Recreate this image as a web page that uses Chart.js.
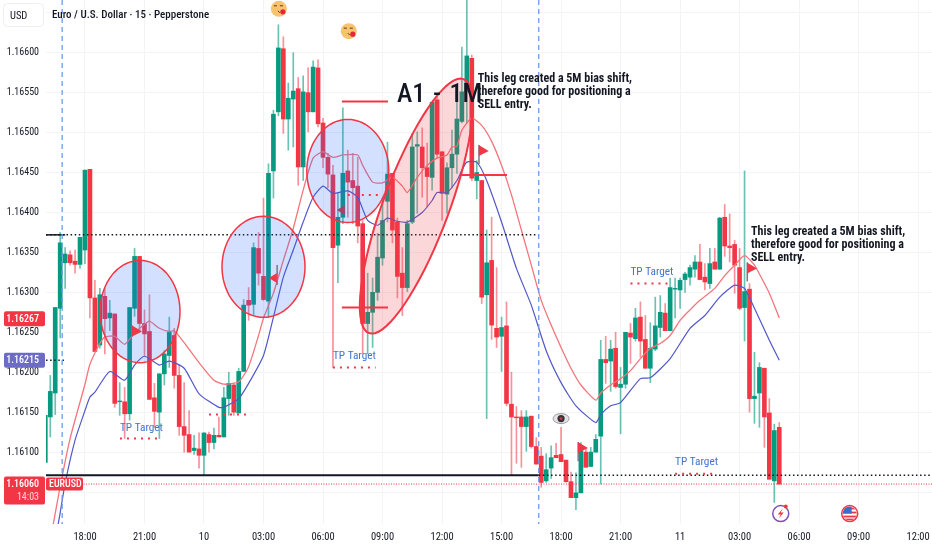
<!DOCTYPE html>
<html><head><meta charset="utf-8">
<style>html,body{margin:0;padding:0;background:#fff}canvas{display:block}</style>
<script src="https://cdn.jsdelivr.net/npm/chart.js@4"></script></head>
<body><canvas id="c" width="932" height="550"></canvas>
<script>
const firstIndex=-8;
const opens=[1.16087,1.16144,1.16174,1.16280,1.16337,1.16347,1.16339,1.16335,
1.16353,1.16454,1.16293,1.16234,1.16295,1.16268,1.16273,1.16163,1.16163,1.16148,
1.16280,1.16345,1.16261,1.16251,1.16168,1.16150,1.16198,1.16221,1.16246,1.16196,
1.16132,1.16122,1.16102,1.16104,1.16096,1.16122,1.16112,1.16121,1.16119,1.16167,
1.16184,1.16149,1.16201,1.16290,1.16285,1.16355,1.16320,1.16289,1.16452,1.16526,
1.16605,1.16517,1.16542,1.16555,1.16457,1.16550,1.16526,1.16581,1.16512,1.16469,
1.16447,1.16359,1.16394,1.16452,1.16440,1.16433,1.16386,1.16261,1.16275,1.16300,
1.16343,1.16414,1.16449,1.16388,1.16324,1.16306,1.16388,1.16483,1.16482,1.16456,
1.16444,1.16541,1.16476,1.16423,1.16456,1.16473,1.16514,1.16551,1.16593,1.16440,
1.16440,1.16297,1.16340,1.16255,1.16245,1.16258,1.16160,1.16144,1.16144,1.16132,
1.16145,1.16107,1.16095,1.16064,1.16080,1.16096,1.16097,1.16090,1.16063,1.16043,
1.16049,1.16100,1.16082,1.16100,1.16120,1.16216,1.16214,1.16230,1.16181,1.16185,
1.16249,1.16242,1.16269,1.16241,1.16205,1.16229,1.16256,1.16274,1.16252,1.16304,
1.16303,1.16316,1.16319,1.16329,1.16338,1.16319,1.16311,1.16338,1.16329,1.16394,
1.16358,1.16360,1.16331,1.16281,1.16304,1.16167,1.16174,1.16205,1.16149,1.16064,1.16131];
const highs=[1.16146,1.16196,1.16281,1.16375,1.16356,1.16352,1.16353,1.16369,
1.16453,1.16454,1.16315,1.16305,1.16305,1.16290,1.16273,1.16187,1.16181,1.16281,
1.16355,1.16345,1.16278,1.16297,1.16186,1.16198,1.16227,1.16269,1.16255,1.16209,
1.16187,1.16152,1.16121,1.16124,1.16124,1.16125,1.16130,1.16144,1.16181,1.16200,
1.16186,1.16205,1.16291,1.16306,1.16362,1.16375,1.16418,1.16461,1.16528,1.16635,
1.16620,1.16562,1.16600,1.16569,1.16571,1.16581,1.16590,1.16591,1.16518,1.16474,
1.16459,1.16424,1.16531,1.16478,1.16474,1.16469,1.16390,1.16324,1.16318,1.16374,
1.16419,1.16488,1.16449,1.16393,1.16356,1.16390,1.16499,1.16501,1.16506,1.16487,
1.16538,1.16544,1.16476,1.16462,1.16503,1.16541,1.16607,1.16680,1.16597,1.16465,
1.16440,1.16378,1.16394,1.16331,1.16269,1.16288,1.16200,1.16157,1.16152,1.16152,
1.16145,1.16118,1.16106,1.16098,1.16108,1.16111,1.16131,1.16090,1.16075,1.16074,
1.16112,1.16105,1.16106,1.16122,1.16240,1.16245,1.16240,1.16250,1.16206,1.16250,
1.16261,1.16280,1.16288,1.16271,1.16262,1.16294,1.16296,1.16286,1.16318,1.16318,
1.16318,1.16325,1.16334,1.16346,1.16360,1.16336,1.16355,1.16355,1.16394,1.16410,
1.16398,1.16365,1.16355,1.16452,1.16311,1.16225,1.16212,1.16205,1.16167,1.16135,1.16137];
const lows=[1.16087,1.16119,1.16147,1.16243,1.16305,1.16334,1.16324,1.16330,
1.16336,1.16268,1.16226,1.16230,1.16223,1.16252,1.16156,1.16146,1.16117,1.16140,
1.16270,1.16252,1.16221,1.16166,1.16131,1.16117,1.16184,1.16206,1.16180,1.16121,
1.16100,1.16100,1.16097,1.16080,1.16071,1.16100,1.16104,1.16119,1.16119,1.16146,
1.16146,1.16149,1.16201,1.16265,1.16271,1.16309,1.16290,1.16269,1.16418,1.16521,
1.16499,1.16478,1.16482,1.16434,1.16440,1.16501,1.16526,1.16507,1.16456,1.16431,
1.16206,1.16312,1.16386,1.16394,1.16386,1.16362,1.16223,1.16223,1.16231,1.16290,
1.16334,1.16388,1.16362,1.16293,1.16271,1.16301,1.16386,1.16399,1.16419,1.16407,
1.16428,1.16468,1.16390,1.16399,1.16431,1.16449,1.16512,1.16512,1.16440,1.16417,
1.16286,1.16142,1.16241,1.16231,1.16201,1.16158,1.16071,1.16086,1.16081,1.16101,
1.16105,1.16085,1.16056,1.16062,1.16067,1.16093,1.16088,1.16062,1.16043,1.16028,
1.16049,1.16081,1.16082,1.16100,1.16060,1.16186,1.16176,1.16180,1.16123,1.16180,
1.16211,1.16239,1.16219,1.16205,1.16187,1.16227,1.16244,1.16252,1.16252,1.16268,
1.16280,1.16300,1.16309,1.16319,1.16316,1.16303,1.16305,1.16329,1.16329,1.16345,
1.16338,1.16299,1.16278,1.16239,1.16150,1.16136,1.16131,1.16106,1.16066,1.16037,1.16060];
const closes=[1.16146,1.16176,1.16281,1.16362,1.16348,1.16337,1.16335,1.16369,
1.16453,1.16293,1.16226,1.16297,1.16267,1.16274,1.16161,1.16164,1.16148,1.16281,
1.16345,1.16261,1.16248,1.16166,1.16151,1.16198,1.16223,1.16250,1.16196,1.16132,
1.16121,1.16100,1.16105,1.16096,1.16124,1.16112,1.16121,1.16119,1.16168,1.16186,
1.16150,1.16201,1.16284,1.16284,1.16356,1.16324,1.16291,1.16449,1.16523,1.16606,
1.16517,1.16543,1.16552,1.16457,1.16551,1.16526,1.16582,1.16511,1.16469,1.16448,
1.16356,1.16394,1.16449,1.16438,1.16431,1.16383,1.16261,1.16275,1.16300,1.16344,
1.16390,1.16448,1.16378,1.16320,1.16306,1.16386,1.16482,1.16485,1.16456,1.16445,
1.16538,1.16473,1.16424,1.16456,1.16473,1.16517,1.16551,1.16596,1.16443,1.16450,
1.16294,1.16337,1.16259,1.16244,1.16256,1.16161,1.16144,1.16143,1.16132,1.16144,
1.16107,1.16085,1.16062,1.16078,1.16093,1.16093,1.16088,1.16063,1.16043,1.16049,
1.16102,1.16081,1.16100,1.16116,1.16216,1.16212,1.16229,1.16182,1.16185,1.16250,
1.16244,1.16268,1.16239,1.16205,1.16230,1.16258,1.16275,1.16252,1.16306,1.16305,
1.16315,1.16323,1.16331,1.16338,1.16316,1.16313,1.16336,1.16329,1.16393,1.16358,
1.16356,1.16334,1.16280,1.16301,1.16167,1.16170,1.16206,1.16144,1.16066,1.16127,1.16060];

const fastIdx=[-7,-5,-3,0,1,3,4,6,8,10,12,13,15,17,18,20,23,26,28,31,33,35,36,38,40,42,44,46,48,50,52,55,56,58,60,62,64,65,67,69,71,73,74,75,76,78,80,82,84,86,88,90,92,94,96,98,100,103,104,106,108,110,112,114,116,118,120,122,124,127,129,131,133,135,136,138,140];
const fastMA=[1.15989,1.16057,1.16117,1.16185,1.16210,1.16236,1.16244,1.16245,1.16235,1.16249,1.16260,1.16264,1.16255,1.16251,1.16252,1.16237,1.16212,1.16190,1.16185,1.16188,1.16207,1.16246,1.16268,1.16299,1.16340,1.16380,1.16428,1.16468,1.16476,1.16469,1.16472,1.16472,1.16459,1.16438,1.16437,1.16444,1.16433,1.16425,1.16444,1.16459,1.16468,1.16472,1.16482,1.16483,1.16503,1.16518,1.16509,1.16489,1.16459,1.16422,1.16378,1.16334,1.16290,1.16259,1.16231,1.16205,1.16184,1.16165,1.16174,1.16184,1.16192,1.16202,1.16217,1.16230,1.16236,1.16246,1.16265,1.16278,1.16290,1.16305,1.16321,1.16334,1.16346,1.16334,1.16323,1.16299,1.16268];
const slowIdx=[-6,-5,-4,-2,0,1,2,5,8,10,12,15,17,20,23,27,28,31,33,36,38,40,42,44,46,48,50,53,55,57,59,61,63,65,68,70,71,73,75,76,77,79,81,84,87,90,93,96,99,103,104,106,108,112,114,118,122,125,128,131,133,135,138,140];
const slowMA=[1.15989,1.16024,1.16061,1.16115,1.16152,1.16169,1.16175,1.16201,1.16190,1.16209,1.16220,1.16209,1.16214,1.16205,1.16173,1.16156,1.16156,1.16167,1.16186,1.16221,1.16269,1.16319,1.16353,1.16388,1.16419,1.16433,1.16424,1.16427,1.16419,1.16390,1.16384,1.16393,1.16389,1.16388,1.16400,1.16415,1.16425,1.16425,1.16440,1.16453,1.16463,1.16463,1.16440,1.16388,1.16330,1.16284,1.16227,1.16187,1.16158,1.16137,1.16147,1.16158,1.16162,1.16192,1.16193,1.16217,1.16255,1.16271,1.16294,1.16309,1.16305,1.16280,1.16240,1.16215];

const xTickIdx=[0,12,24,36,48,60,72,84,96,108,120,132,144,156,168];
const xTickLabels=["18:00","21:00","10","03:00","06:00","09:00","12:00","15:00","18:00","21:00","11","03:00","06:00","09:00","12:00"];
const yTickValues=[1.1605,1.161,1.1615,1.162,1.1625,1.163,1.1635,1.164,1.1645,1.165,1.1655,1.166,1.1665];
const yTickHidden=[1.1605,1.1665];

const ellipseIdx=[11.1,36,53,66.8], ellipsePrice=[1.16276,1.16332,1.16452,1.16408];
const ellipseUIdx=[8.06,8.37,8.27,9.54], ellipseUPrice=[0,0,0,0.00159];
const ellipseVIdx=[0,0,0,6.21], ellipseVPrice=[0.00064,0.000633,0.000645,-0.000144];

const tpIdx=[7.06,50,110,119], tpPrice=[1.1613,1.1622,1.16325,1.16087];
const dotFrom=[7.06,25,50,110,119,53], dotTo=[15.5,33.5,58.6,118.3,127.4,59.9], dotPrice=[1.16117,1.16147,1.16206,1.16311,1.16073,1.16422];
const redFrom=[51.8,51.8,75.6], redTo=[61.1,61.1,85.1], redPrice=[1.16539,1.16281,1.16447];
const vLineIdx=[-4.6,91.5];
const flagIdx=[9.5,79.4,99.4,133.5], flagPrice=[1.16251,1.16477,1.16105,1.1633];
const leftFlagIdx=[38.7,52.4], leftFlagPrice=[1.16318,1.16403];
const noteIdx=[79.2,134.3], notePrice=[1.16567,1.16376];
const noteLines=["This leg created a 5M bias shift,","therefore good for positioning a","SELL entry."];
const kissIdx=[39.1,53.2], kissPrice=[1.16655,1.16627];

const N='"Roboto Condensed","Liberation Sans Narrow",sans-serif';
const RED='#f23645', GREEN='#089981';
const idx=opens.map((_,i)=>i+firstIndex);
const up=opens.map((o,i)=>closes[i]>=o);

const overlay={id:'overlay',afterDraw(chart){
 const c=chart.ctx,xs=chart.scales.x,ys=chart.scales.y,A=chart.chartArea;
 const X=v=>xs.getPixelForValue(v),Y=v=>ys.getPixelForValue(v);
 const seg=(a,b,p,col,w,d)=>{c.beginPath();c.strokeStyle=col;c.lineWidth=w;c.setLineDash(d||[]);c.moveTo(X(a),Y(p));c.lineTo(X(b),Y(p));c.stroke();c.setLineDash([]);};
 c.save();
 c.beginPath();c.rect(A.left,A.top,A.right-A.left,A.bottom-A.top);c.clip();
 seg(-7.86,91.5,1.16372,'#131722',1.5,[1.5,2.6]);
 seg(-7.86,-4,1.16372,'#131722',1.5);
 seg(-7.86,-4,1.16215,'#131722',1.5,[1.5,2.6]);
 seg(-7.86,91.5,1.16071,'#131722',2);
 seg(91.5,172,1.16071,'#131722',1.5,[1.5,2.6]);
 seg(-7.86,172,1.1606,RED,1,[1,1.5]);
 vLineIdx.forEach(v=>{c.beginPath();c.strokeStyle='#6c9bee';c.lineWidth=1.3;c.setLineDash([5,4]);c.moveTo(X(v),A.top);c.lineTo(X(v),A.bottom);c.stroke();c.setLineDash([]);});
 ellipseIdx.forEach((ci,k)=>{
  c.beginPath();
  for(let t=0;t<=72;t++){const a=t/72*Math.PI*2,co=Math.cos(a),si=Math.sin(a);
   const px=X(ci+ellipseUIdx[k]*co+ellipseVIdx[k]*si),py=Y(ellipsePrice[k]+ellipseUPrice[k]*co+ellipseVPrice[k]*si);
   t?c.lineTo(px,py):c.moveTo(px,py);}
  c.closePath();
  c.fillStyle=k===3?'rgba(242,54,69,0.2)':'rgba(41,98,255,0.2)';c.fill();
  c.strokeStyle=RED;c.lineWidth=k===3?2:1.5;c.stroke();
 });
 redFrom.forEach((a,k)=>seg(a,redTo[k],redPrice[k],RED,2));
 dotFrom.forEach((a,k)=>seg(a,dotTo[k],dotPrice[k],RED,2,[2,5]));
 flagIdx.forEach((v,k)=>{const x=X(v),y=Y(flagPrice[k]);
  c.fillStyle='#787b86';c.fillRect(x-.5,y-6,1.5,k===0?11:19);
  c.fillStyle=RED;c.beginPath();c.moveTo(x,y-6);c.lineTo(x+10,y);c.lineTo(x,y+5);c.closePath();c.fill();});
 leftFlagIdx.forEach((v,k)=>{const x=X(v),y=Y(leftFlagPrice[k]);
  c.fillStyle='#787b86';if(k===0)c.fillRect(x-.5,y-13,1.5,20);
  c.fillStyle=k===0?RED:'#a8406a';c.beginPath();c.moveTo(x,y-5);c.lineTo(x-8,y);c.lineTo(x,y+5);c.closePath();c.fill();});
 c.textBaseline='middle';c.textAlign='left';
 c.font='11.3px '+N;c.fillStyle='#3f74d0';
 tpIdx.forEach((v,k)=>c.fillText('TP Target',X(v),Y(tpPrice[k])));
 c.fillStyle='#131722';c.font='500 26px '+N;
 c.fillText('A1',X(62.9),Y(1.16546));c.fillText('-',X(70.2),Y(1.16546));c.fillText('1M',X(73.5),Y(1.16546));
 c.font='bold 12px '+N;c.fillStyle='#131722';
 noteIdx.forEach((v,k)=>noteLines.forEach((t,j)=>c.fillText(t,X(v),Y(notePrice[k])+j*13)));
 kissIdx.forEach((v,k)=>{const x=X(v),y=Y(kissPrice[k]);
  c.fillStyle='#f7c36d';c.beginPath();c.arc(x,y,8,0,7);c.fill();
  c.strokeStyle='#5a3a1e';c.lineWidth=1;c.beginPath();c.moveTo(x-5,y-3);c.lineTo(x-2,y-3);c.moveTo(x+1,y-3);c.lineTo(x+4,y-3);c.moveTo(x-1,y+2);c.lineTo(x+1,y+4);c.stroke();
  c.fillStyle='#e8253c';c.beginPath();c.arc(x+4,y+3,2.6,0,7);c.fill();});
 {const x=X(96),y=Y(1.16142);c.fillStyle='#e4e4e6';c.beginPath();c.ellipse(x,y,8,5,0,0,7);c.fill();
  c.strokeStyle='#9a9aa2';c.lineWidth=1;c.stroke();
  c.fillStyle='#3a3038';c.beginPath();c.arc(x,y,3.6,0,7);c.fill();c.fillStyle='#b8454f';c.beginPath();c.arc(x,y,1.4,0,7);c.fill();}
 {const x=X(140.3),y=Y(1.16023);c.fillStyle='#fff';c.strokeStyle='#7e4fb5';c.lineWidth=1.5;c.beginPath();c.arc(x,y,8,0,7);c.fill();c.stroke();
  c.fillStyle=RED;c.beginPath();c.moveTo(x+2,y-5);c.lineTo(x-3,y+1);c.lineTo(x,y+1);c.lineTo(x-2,y+5);c.lineTo(x+3,y-1);c.lineTo(x,y-1);c.closePath();c.fill();
  c.beginPath();c.arc(x+5,y-7,2,0,7);c.fill();}
 {const x=X(154.2),y=Y(1.16023);c.fillStyle='#fff';c.beginPath();c.arc(x,y,8.5,0,7);c.fill();
  c.save();c.beginPath();c.arc(x,y,7,0,7);c.clip();
  c.fillStyle=RED;[-6,-2,2,5].forEach(d=>c.fillRect(x-8,y+d,16,1.8));
  c.fillStyle='#3a6fc4';c.fillRect(x-8,y-8,10,8);c.restore();
  c.strokeStyle=RED;c.lineWidth=1.5;c.beginPath();c.arc(x,y,8,0,7);c.stroke();}
 c.restore();
 c.textBaseline='middle';c.textAlign='left';c.fillStyle='#131722';c.font='500 11px '+N;
 c.fillText('Euro / U.S. Dollar · 15 · Pepperstone',52,15.5);
 const box=(x,y,w,h,col)=>{c.fillStyle=col;c.beginPath();c.roundRect(x,y,w,h,2);c.fill();};
 c.fillStyle='#fff';c.strokeStyle='#eceef2';c.lineWidth=1;c.beginPath();c.roundRect(3.5,3.5,40,23,4);c.fill();c.stroke();
 c.fillStyle='#131722';c.font='10.5px '+N;c.fillText('USD',10,16);
 const tagFont='500 10px '+N;
 const tag=(p,t,col)=>{const y=Y(p);box(4,y-7.5,41,15,col);c.fillStyle='#fff';c.font=tagFont;c.textAlign='right';c.fillText(t,39,y+.5);c.textAlign='left';};
 tag(1.16267,'1.16267',RED);
 tag(1.16215,'1.16215','#6c6cc4');
 const y6=Y(1.1606);
 box(4,y6-7.5,41,28,RED);c.fillStyle='#fff';c.font=tagFont;c.textAlign='right';c.fillText('1.16060',39,y6+.5);
 c.fillStyle='#ffd5d9';c.font='10px '+N;c.fillText('14:03',39,y6+13.5);c.textAlign='left';
 box(46,y6-6.5,37,13,RED);c.fillStyle='#fff';c.font='500 10px '+N;c.fillText('EURUSD',49,y6+.5);
}};

const noPad=s=>{s.paddingLeft=s.paddingRight=s.paddingTop=s.paddingBottom=0;};
new Chart(document.getElementById('c'),{
 data:{datasets:[
  {type:'line',data:fastIdx.map((x,i)=>({x,y:fastMA[i]})),borderColor:'#f4757b',borderWidth:1.3,pointRadius:0,tension:.2,order:0},
  {type:'line',data:slowIdx.map((x,i)=>({x,y:slowMA[i]})),borderColor:'#5157c8',borderWidth:1.2,pointRadius:0,tension:.2,order:0},
  {type:'bar',data:idx.map((x,i)=>({x,y:[Math.min(opens[i],closes[i]),Math.max(opens[i],closes[i])]})),backgroundColor:up.map(u=>u?GREEN:RED),barThickness:4,grouped:false,order:1},
  {type:'bar',data:idx.map((x,i)=>({x,y:[lows[i],highs[i]]})),backgroundColor:up.map(u=>u?'rgba(8,153,129,.6)':'rgba(242,54,69,.55)'),barThickness:1,grouped:false,order:2}
 ]},
 options:{responsive:false,animation:false,events:[],layout:{padding:0},
  plugins:{legend:{display:false},tooltip:{enabled:false}},
  scales:{
   x:{type:'linear',offset:false,min:-7.86,max:170.8,border:{display:false},
    grid:{color:'#f3f4f6',drawTicks:false,lineWidth:1,offset:false},
    afterBuildTicks(s){s.ticks=xTickIdx.map(value=>({value}));},
    afterFit(s){s.height=26;noPad(s);},
    ticks:{autoSkip:false,maxRotation:0,padding:7,color:'#131722',font:{family:N,size:10.5},
     callback(v){return xTickLabels[xTickIdx.indexOf(v)]??'';}}},
   y:{type:'linear',position:'left',min:1.1601,max:1.16666,border:{display:false},
    grid:{color:'#f3f4f6',drawTicks:false,lineWidth:1},
    afterBuildTicks(s){s.ticks=yTickValues.map(value=>({value}));},
    afterFit(s){s.width=46;noPad(s);},
    ticks:{autoSkip:false,padding:7,color:'#131722',font:{family:N,size:10},
     callback(v){return yTickHidden.includes(v)?'':v.toFixed(5);}}}
  }},
 plugins:[overlay]
});
</script></body></html>
